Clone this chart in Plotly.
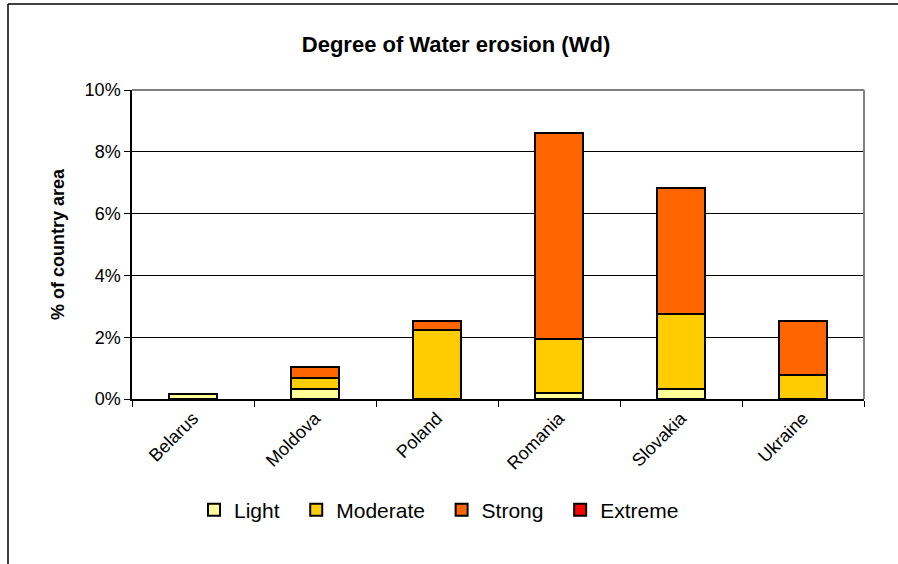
import plotly.graph_objects as go

# Share of country area affected by water erosion, by degree (%)
countries = ["Belarus", "Moldova", "Poland", "Romania", "Slovakia", "Ukraine"]
light = [0.16, 0.32, 0.0, 0.18, 0.31, 0.0]
moderate = [0.0, 0.35, 2.24, 1.75, 2.44, 0.77]
strong = [0.0, 0.38, 0.30, 6.67, 4.09, 1.75]
extreme = [0.0, 0.0, 0.0, 0.0, 0.0, 0.0]

# legend names are padded with no-break spaces to widen the entries
PAD = "\u00a0\u00a0"
series = [
    ("Light", light, "#FFFF99"),
    ("Moderate", moderate, "#FFCC00"),
    ("Strong", strong, "#FF6600"),
    ("Extreme", extreme, "#FF0000"),
]

FONT = "Liberation Sans, Arial, sans-serif"

fig = go.Figure()
for name, vals, color in series:
    fig.add_trace(go.Bar(
        name=name + PAD,
        x=countries,
        y=vals,
        marker=dict(color=color, line=dict(color="black", width=2)),
    ))

W, H = 898, 564
L, R, T, B = 132, 34, 90, 165
pw, ph = W - L - R, H - T - B

def px_x(p):
    return (p - L) / pw

def px_y(p):
    return (H - B - p) / ph

fig.update_layout(
    width=W, height=H,
    margin=dict(l=L, r=R, t=T, b=B),
    barmode="stack",
    bargap=0.6,
    plot_bgcolor="white",
    paper_bgcolor="white",
    font=dict(family=FONT, color="black"),
    title=dict(
        text="<b>Degree of Water erosion (Wd)</b>",
        x=456 / W, xref="container", xanchor="center",
        y=1 - 44 / H, yanchor="middle",
        font=dict(size=22, family=FONT, color="black"),
    ),
    legend=dict(
        orientation="h",
        x=px_x(445), xanchor="center",
        y=px_y(510), yanchor="middle",
        font=dict(size=21, family=FONT, color="black"),
        traceorder="normal",
    ),
    xaxis=dict(
        type="category",
        showline=True, linecolor="black", linewidth=1.5,
        ticks="outside", ticklen=6, tickcolor="black", tickwidth=1,
        tickson="boundaries",
        tickangle=-45,
        tickfont=dict(size=18, family=FONT, color="black"),
        showgrid=False,
    ),
    yaxis=dict(
        range=[0, 10],
        tickvals=[0, 2, 4, 6, 8, 10],
        ticktext=["0%", "2%", "4%", "6%", "8%", "10%"],
        showline=True, linecolor="black", linewidth=1.5,
        ticks="outside", ticklen=6, tickcolor="black", tickwidth=1,
        tickfont=dict(size=18, family=FONT, color="black"),
        showgrid=True, gridcolor="black", gridwidth=1,
        zeroline=False,
        title=dict(
            text="<b>% of country area</b>",
            font=dict(size=18, family=FONT, color="black"),
            standoff=15,
        ),
    ),
    shapes=[
        # grey plot-area frame on top and right
        dict(type="line", xref="paper", yref="paper", x0=0, x1=1, y0=1, y1=1,
             line=dict(color="#808080", width=2), layer="above"),
        dict(type="line", xref="paper", yref="paper", x0=1, x1=1, y0=0, y1=1,
             line=dict(color="#808080", width=2), layer="above"),
        # chart border (left and top edges)
        dict(type="line", xref="paper", yref="paper",
             x0=px_x(8), x1=px_x(8), y0=px_y(4), y1=px_y(600),
             line=dict(color="black", width=1.5), layer="below"),
        dict(type="line", xref="paper", yref="paper",
             x0=px_x(8), x1=px_x(940), y0=px_y(4), y1=px_y(4),
             line=dict(color="black", width=1.5), layer="below"),
    ],
)

fig.write_html("out.html")
